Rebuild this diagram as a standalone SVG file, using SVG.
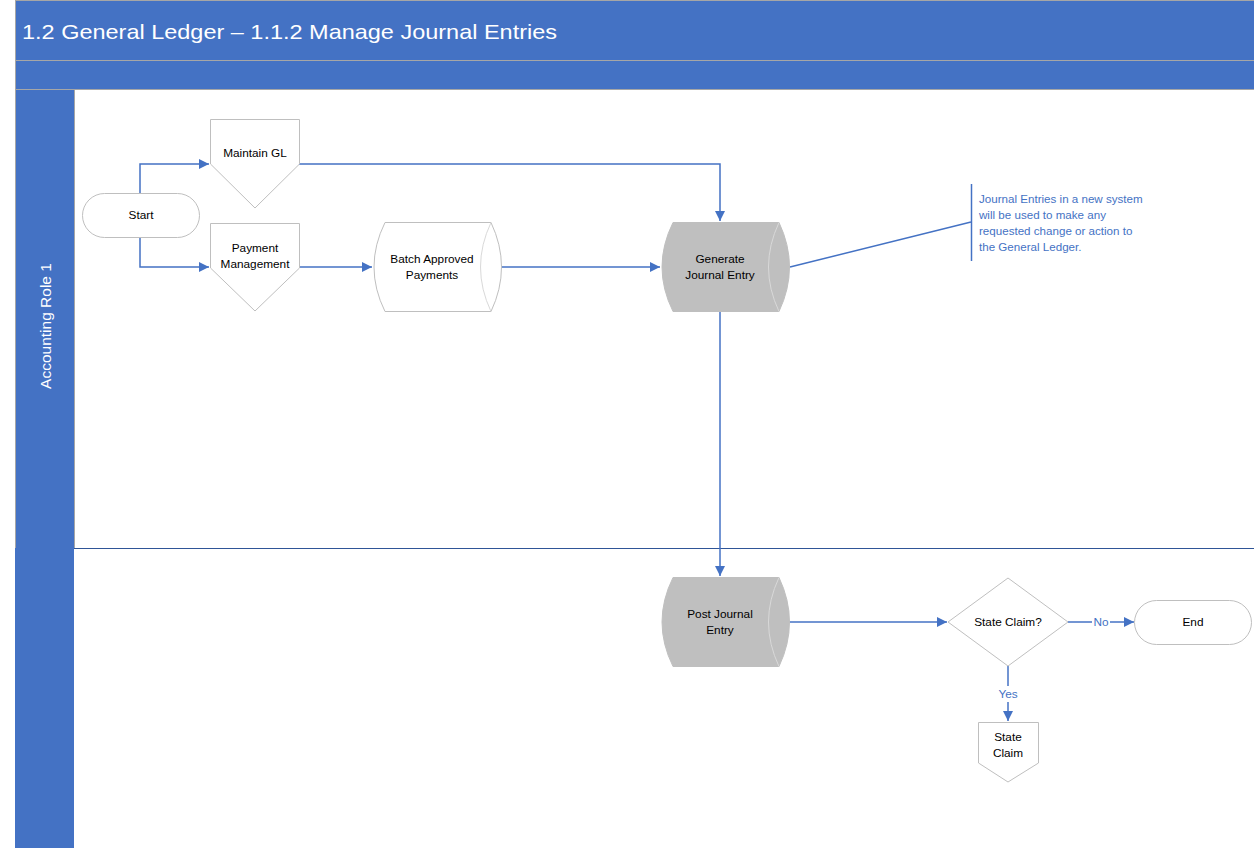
<svg xmlns="http://www.w3.org/2000/svg" width="1254" height="848" viewBox="0 0 1254 848">
  <style>
    .band { fill: #4472C4; }
    .sep { stroke: #A6A6A6; stroke-width: 1; fill: none; }
    .shape { fill: #FFFFFF; stroke: #BFBFBF; stroke-width: 1; }
    .grey { fill: #BFBFBF; stroke: #BFBFBF; stroke-width: 1; }
    .inner { fill: none; stroke: #D9D9D9; stroke-width: 1; }
    .lbl { font-family: "Liberation Sans", Arial, sans-serif; font-size: 11.8px; fill: #000000; text-anchor: middle; }
    .edge { fill: none; stroke: #4472C4; stroke-width: 1.5; }
    .elbl { font-family: "Liberation Sans", Arial, sans-serif; font-size: 11.8px; fill: #4472C4; text-anchor: middle; }
    .note { font-family: "Liberation Sans", Arial, sans-serif; font-size: 11.6px; fill: #4472C4; }
  </style>
  <defs>
    <marker id="arrow" viewBox="0 0 10 10" refX="10" refY="5" markerWidth="11" markerHeight="10" markerUnits="userSpaceOnUse" orient="auto">
      <path d="M0,0 L10,5 L0,10 z" fill="#4472C4"/>
    </marker>
  </defs>

  <rect width="1254" height="848" fill="#FFFFFF"/>

  <!-- header bands -->
  <g id="header">
    <rect class="band" x="15" y="0" width="1239" height="90"/>
    <line class="sep" x1="15" y1="0.5" x2="1254" y2="0.5"/>
    <line class="sep" x1="15" y1="60.5" x2="1254" y2="60.5"/>
    <line class="sep" x1="15" y1="89.5" x2="1254" y2="89.5"/>
    <text x="22" y="39" font-family="'Liberation Sans', Arial, sans-serif" font-size="21" fill="#FFFFFF" textLength="535" lengthAdjust="spacingAndGlyphs">1.2 General Ledger – 1.1.2 Manage Journal Entries</text>
  </g>

  <!-- swimlane -->
  <g id="lane1">
    <rect class="band" x="15" y="90" width="59" height="758"/>
    <line class="sep" x1="15.5" y1="0" x2="15.5" y2="548"/>
    <line class="sep" x1="74.5" y1="90" x2="74.5" y2="548"/>
    <line x1="74" y1="548.5" x2="1254" y2="548.5" stroke="#2F5597" stroke-width="1.2"/>
    <text transform="translate(51,326) rotate(-90)" font-family="'Liberation Sans', Arial, sans-serif" font-size="15.5" fill="#FFFFFF" text-anchor="middle">Accounting Role 1</text>
  </g>

  <!-- connectors -->
  <g id="connectors">
    <path class="edge" d="M140,193 V164 H209" marker-end="url(#arrow)"/>
    <path class="edge" d="M140,237 V267 H209" marker-end="url(#arrow)"/>
    <path class="edge" d="M299,164 H720 V221" marker-end="url(#arrow)"/>
    <path class="edge" d="M299,267 H372" marker-end="url(#arrow)"/>
    <path class="edge" d="M491,267 H660" marker-end="url(#arrow)"/>
    <path class="edge" d="M720,311 V576" marker-end="url(#arrow)"/>
    <path class="edge" d="M778,622 H947" marker-end="url(#arrow)"/>
    <path class="edge" d="M1068,622 H1092"/>
    <path class="edge" d="M1110,622 H1134" marker-end="url(#arrow)"/>
    <text class="elbl" x="1101" y="626">No</text>
    <path class="edge" d="M1008,666 V686"/>
    <path class="edge" d="M1008,702 V721" marker-end="url(#arrow)"/>
    <text class="elbl" x="1008" y="698">Yes</text>
    <path class="edge" d="M790,267 L971,222"/>
  </g>

  <g id="start">
    <rect class="shape" x="82.5" y="193.5" width="117" height="44" rx="22" ry="22"/>
    <text class="lbl" x="141" y="219">Start</text>
  </g>

  <g id="maintain-gl">
    <path class="shape" d="M210.5,119.5 H299.5 V164 L255,208 L210.5,164 Z"/>
    <text class="lbl" x="255" y="157">Maintain GL</text>
  </g>

  <g id="payment-management">
    <path class="shape" d="M210.5,223.5 H299.5 V268 L255,311 L210.5,268 Z"/>
    <text class="lbl" x="255" y="252">Payment</text>
    <text class="lbl" x="255" y="268">Management</text>
  </g>

  <g id="batch-approved-payments">
    <path class="shape" d="M385,222.5 H491 Q512,267 491,311.5 H385 Q363,267 385,222.5 Z"/>
    <path class="inner" d="M491,222.5 Q470,267 491,311.5"/>
    <text class="lbl" x="432" y="263">Batch Approved</text>
    <text class="lbl" x="432" y="279">Payments</text>
  </g>

  <g id="generate-journal-entry">
    <path class="grey" d="M673,222.5 H779 Q800,267 779,311.5 H673 Q651,267 673,222.5 Z"/>
    <path class="inner" d="M779,222.5 Q758,267 779,311.5"/>
    <text class="lbl" x="720" y="263">Generate</text>
    <text class="lbl" x="720" y="279">Journal Entry</text>
  </g>

  <g id="journal-note">
    <line x1="971.5" y1="184" x2="971.5" y2="261" stroke="#4472C4" stroke-width="1.5"/>
    <text class="note" x="979" y="203">Journal Entries in a new system</text>
    <text class="note" x="979" y="219">will be used to make any</text>
    <text class="note" x="979" y="235">requested change or action to</text>
    <text class="note" x="979" y="251">the General Ledger.</text>
  </g>

  <g id="post-journal-entry">
    <path class="grey" d="M673,577.5 H779 Q800,622 779,666.5 H673 Q651,622 673,577.5 Z"/>
    <path class="inner" d="M779,577.5 Q758,622 779,666.5"/>
    <text class="lbl" x="720" y="618">Post Journal</text>
    <text class="lbl" x="720" y="634">Entry</text>
  </g>

  <g id="state-claim-decision">
    <path class="shape" d="M1008,578 L1068,622 L1008,666 L948,622 Z"/>
    <text class="lbl" x="1008" y="626">State Claim?</text>
  </g>

  <g id="end">
    <rect class="shape" x="1134.5" y="600.5" width="117" height="44" rx="22" ry="22"/>
    <text class="lbl" x="1193" y="626">End</text>
  </g>

  <g id="state-claim">
    <path class="shape" d="M978.5,722.5 H1038.5 V763 L1008,782 L978.5,763 Z"/>
    <text class="lbl" x="1008" y="741">State</text>
    <text class="lbl" x="1008" y="757">Claim</text>
  </g>
</svg>
